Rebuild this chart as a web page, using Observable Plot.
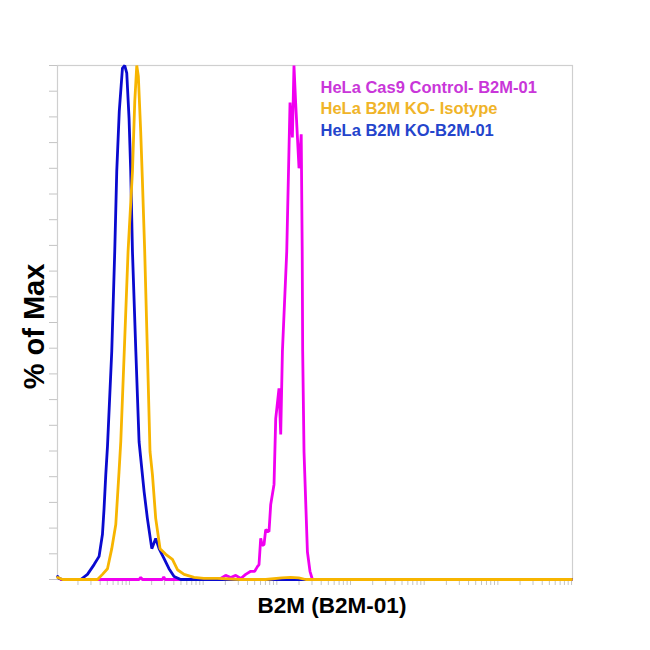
<!DOCTYPE html>
<html>
<head>
<meta charset="utf-8">
<script src="https://cdn.jsdelivr.net/npm/d3@7"></script>
<script src="https://cdn.jsdelivr.net/npm/@observablehq/plot@0.6"></script>
<style>
  html, body { margin: 0; padding: 0; background: #fff; }
  #chart { width: 650px; height: 650px; }
</style>
</head>
<body>
<div id="chart"></div>
<script>
// ---- data ----
const seriesNames = ["HeLa Cas9 Control- B2M-01", "HeLa B2M KO- Isotype", "HeLa B2M KO-B2M-01"];
const lineColors = ["#f000f0", "#f7b500", "#0a0acf"];
const textColors = ["#c936d9", "#f0b429", "#2444cc"];

// HeLa Cas9 Control- B2M-01
const ctrlX = [1.17, 13.5, 14.2, 15.0, 28.0, 29.2, 30.5, 92.7, 173, 202, 237, 277, 324, 378, 442, 501, 545, 573, 604, 634, 670, 706, 783, 826, 916, 966, 1070, 1129, 1191, 1363, 1510, 1626, 1709, 1803, 2000, 2143, 2210, 2243, 2338, 2600, 2818, 3040, 1e7];
const ctrlY = [0, 0, 0.4, 0, 0, 0.5, 0, 0, 0.2, 0.8, 0.4, 0.8, 0.2, 1.0, 1.6, 1.6, 2.5, 2.9, 8.0, 6.6, 6.8, 9.7, 9.3, 14.6, 18.5, 31.3, 37.2, 28.2, 44.4, 63.8, 92.8, 86.0, 100, 92.6, 80.0, 86.6, 63.8, 44.4, 24.9, 5.4, 1.6, 0, 0];

// HeLa B2M KO- Isotype
const isoX = [1.06, 1.24, 3.68, 4.30, 5.03, 5.75, 6.52, 7.22, 7.62, 8.5, 9.57, 10.98, 11.8, 12.56, 13.2, 14.2, 15.0, 16.1, 17.5, 19.0, 20.5, 22.7, 26.0, 31.1, 38.3, 44.8, 55.1, 75.2, 102, 156, 324, 706, 1165, 1542, 1982, 2465, 1e7];
const isoY = [0.4, 0, 0, 1.0, 2.1, 6.0, 10.7, 21.0, 26.8, 44.4, 63.8, 79.4, 93.0, 100, 97.9, 87.2, 77.4, 63.8, 44.4, 24.9, 20.4, 11.9, 6.0, 4.9, 3.9, 1.9, 1.0, 0.4, 0.2, 0.2, 0, 0, 0.3, 0.4, 0.3, 0, 0];

// HeLa B2M KO-B2M-01
const koX = [1.06, 1.1, 1.24, 2.18, 2.69, 3.31, 3.87, 4.30, 4.52, 4.77, 5.03, 5.75, 6.31, 6.72, 7.27, 8.03, 8.63, 9.19, 9.87, 10.4, 10.98, 12.2, 13.5, 15.8, 17.5, 20.1, 22.7, 25.2, 29.4, 34.4, 40.3, 49.6, 1e7];
const koY = [0.6, 0.2, 0, 0, 1.0, 2.9, 4.5, 8.8, 13.8, 20.4, 25.9, 44.4, 63.8, 79.4, 91.1, 99.5, 100, 98.5, 89.7, 79.4, 63.8, 44.4, 26.8, 17.1, 11.9, 6.0, 8.0, 6.0, 4.1, 2.1, 0.6, 0, 0];

const xDomain = [1.055, 1.03e7];
const yTicks = d3.range(0, 101, 5);
const xTicks = d3.range(0, 8).flatMap(k => d3.range(1, 10).map(m => m * 10 ** k))
  .filter(v => v >= xDomain[0] && v <= xDomain[1]);

const toRows = (xs, ys) => xs.map((x, i) => ({x, y: ys[i]}));
const ctrl = toRows(ctrlX, ctrlY);
const iso = toRows(isoX, isoY);
const ko = toRows(koX, koY);

const font = "'Liberation Sans', Arial, Helvetica, sans-serif";

const legendMarks = seriesNames.map((name, i) =>
  Plot.text([name], {
    frameAnchor: "top-left", textAnchor: "start", lineAnchor: "bottom",
    dx: 263, dy: 27 + i * 21.6,
    fill: textColors[i], fontSize: 16.5, fontWeight: "bold"
  })
);

const chart = Plot.plot({
  width: 650, height: 650,
  marginLeft: 57, marginRight: 78, marginTop: 65, marginBottom: 71,
  style: {fontFamily: font, background: "#fff", overflow: "visible"},
  x: {type: "log", domain: xDomain},
  y: {domain: [0, 100]},
  marks: [
    Plot.frame({stroke: "#cfcfcf", strokeWidth: 1.2}),
    Plot.axisY({ticks: yTicks, tickSize: 8, tickFormat: () => "", label: null, stroke: "#c4c4c4"}),
    Plot.axisX({ticks: xTicks, tickSize: 6, tickFormat: () => "", label: null, stroke: "#c4c4c4"}),
    Plot.line(ctrl, {x: "x", y: "y", stroke: lineColors[0], strokeWidth: 2.8, strokeLinejoin: "miter"}),
    Plot.line(ko, {x: "x", y: "y", stroke: lineColors[2], strokeWidth: 2.8, strokeLinejoin: "miter"}),
    Plot.line(iso, {x: "x", y: "y", stroke: lineColors[1], strokeWidth: 2.8, strokeLinejoin: "miter"}),
    ...legendMarks,
    Plot.text(["% of Max"], {
      frameAnchor: "left", textAnchor: "middle", rotate: -90, dx: -23, dy: 4,
      fontSize: 29, fontWeight: "bold", fill: "#000"
    }),
    Plot.text(["B2M (B2M-01)"], {
      frameAnchor: "bottom", textAnchor: "middle", dx: 17, dy: 33,
      fontSize: 22.5, fontWeight: "bold", fill: "#000"
    })
  ]
});

document.getElementById("chart").append(chart);
</script>
</body>
</html>
